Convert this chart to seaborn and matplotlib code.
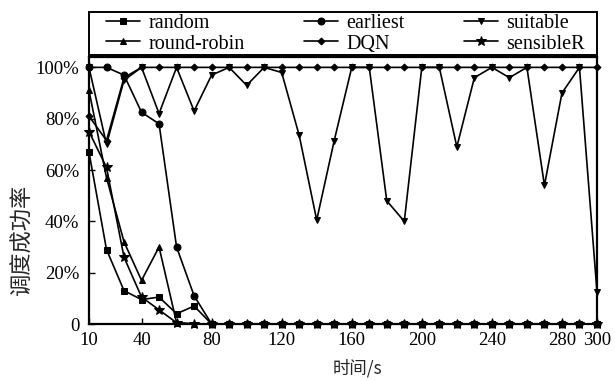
import matplotlib
matplotlib.use("Agg")
import matplotlib.pyplot as plt
from matplotlib.patches import Rectangle
import seaborn as sns
import numpy as np
import pandas as pd

sns.set_theme(style="ticks")
plt.rcParams['font.family'] = ['Liberation Serif', 'Noto Sans CJK SC']
plt.rcParams['mathtext.fontset'] = 'stix'

time = list(range(10, 301, 10))
random_v = [67, 29, 13, 9.5, 10.5, 4, 7] + [0] * 23
earliest = [100, 100, 97, 82.5, 78, 30, 11] + [0] * 23
suitable = [100, 70, 95, 100, 82, 100, 83, 97, 100, 93, 100, 98, 73.5, 40.5, 71.5,
            100, 100, 48, 40, 100, 100, 69, 96, 100, 96, 100, 54, 90, 100, 12.5]
round_robin = [91, 57, 32, 17, 30, 0.5] + [0] * 24
dqn = [81, 71.5, 96] + [100] * 27
sensibleR = [75, 61, 26, 10.5, 5.5, 0.5] + [0] * 24

series = [
    ("random", random_v, "s", 4.5),
    ("round-robin", round_robin, "^", 5),
    ("earliest", earliest, "o", 5),
    ("DQN", dqn, "D", 3.5),
    ("suitable", suitable, "v", 5),
    ("sensibleR", sensibleR, "*", 7),
]

fig = plt.figure(figsize=(6.15, 3.81), dpi=100)
ax = fig.add_axes([0.1447, 0.1496, 0.826, 0.7005])

for name, vals, mk, ms in series:
    df = pd.DataFrame({"t": time, "v": np.array(vals) / 100.0})
    sns.lineplot(data=df, x="t", y="v", ax=ax, color="black", marker=mk,
                 markersize=ms, markeredgecolor="black", markerfacecolor="black",
                 linewidth=1.2, label=name, clip_on=False)

ax.set_xlim(10, 300)
ax.set_ylim(0, 1.04)
ax.set_xticks([10, 40, 80, 120, 160, 200, 240, 280, 300])
ax.set_yticks([0, 0.2, 0.4, 0.6, 0.8, 1.0])
ax.set_yticklabels(["0", "20%", "40%", "60%", "80%", "100%"])
ax.tick_params(axis="both", direction="in", labelsize=13.5, length=4, width=1, color="black",
               labelcolor="black")
ax.tick_params(axis="y", pad=7)
ax.tick_params(axis="x", pad=6)
for sp in ax.spines.values():
    sp.set_visible(True)
    sp.set_linewidth(1.6)
    sp.set_color("black")

ax.set_xlabel("时间/s", fontsize=12.5, family=['Noto Sans CJK SC'])
ax.set_ylabel("调度成功率", fontsize=16, family=['Noto Sans CJK SC'])
ax.xaxis.set_label_coords(0.528, -0.13)
ax.yaxis.set_label_coords(-0.108, 0.315)

# legend frame spanning the axes width, entries slightly inset
frame = Rectangle((0, 1.008), 1, 0.16, transform=ax.transAxes, fill=False,
                  edgecolor="black", linewidth=1.4, clip_on=False)
ax.add_patch(frame)
leg = ax.legend(loc="center left", bbox_to_anchor=(0.03, 1.008, 0.95, 0.16), mode="expand",
                ncol=3, borderaxespad=0, frameon=False, fontsize=14.5,
                handlelength=1.7, handletextpad=0.4, labelspacing=0.08,
                borderpad=0.1, columnspacing=1.0)
for t in leg.get_texts():
    t.set_color("black")

fig.savefig("out.png", dpi=100)
